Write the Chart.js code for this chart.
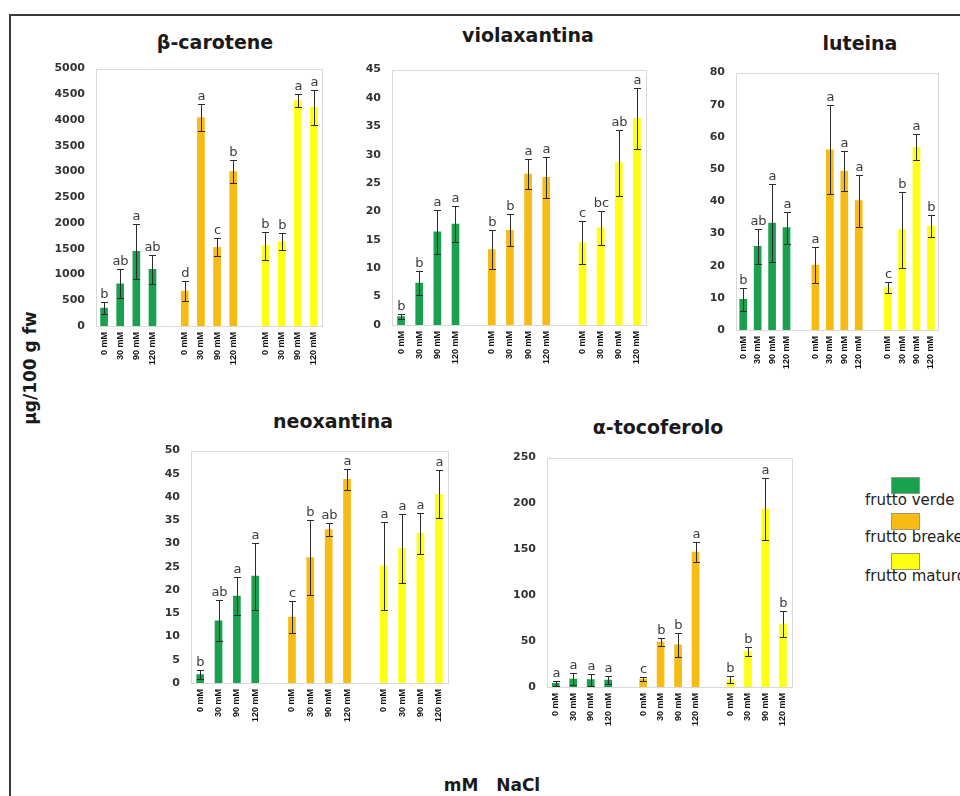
<!DOCTYPE html>
<html>
<head>
<meta charset="utf-8">
<script src="https://cdn.jsdelivr.net/npm/chart.js@4.4.1/dist/chart.umd.min.js"></script>
<style>
  html, body { margin: 0; padding: 0; background: #fff; }
  body { position: relative; width: 960px; height: 796px; overflow: hidden; font-family: "DejaVu Sans", sans-serif; }
  .frame { position: absolute; left: 9px; top: 14px; width: 1000px; height: 900px; border-top: 2px solid #3a3a3a; border-left: 2px solid #3a3a3a; }
  canvas { position: absolute; }
  .title { position: absolute; font: bold 19px "DejaVu Sans", sans-serif; color: #1a1a1a; transform: translate(-50%, -50%); white-space: nowrap; }
  .axis-title { position: absolute; font: bold 17px "DejaVu Sans", sans-serif; color: #1a1a1a; white-space: pre; }
  .swatch { position: absolute; left: 891px; width: 27px; height: 15px; border: 1px solid #9a9a7a; }
  .legend-text { position: absolute; left: 865px; font: 15px "DejaVu Sans", sans-serif; color: #222; white-space: nowrap; transform: translateY(-50%); }
</style>
</head>
<body>
<div class="frame"></div>

<div class="title" style="left:215px; top:42px;">β-carotene</div>
<div class="title" style="left:528px; top:35px;">violaxantina</div>
<div class="title" style="left:860px; top:43px;">luteina</div>
<div class="title" style="left:333px; top:421px;">neoxantina</div>
<div class="title" style="left:658px; top:427px;">α-tocoferolo</div>

<div class="axis-title" style="left:30px; top:368px; transform: translate(-50%, -50%) rotate(-90deg);">µg/100 g fw</div>
<div class="axis-title" style="left:492px; top:785px; transform: translate(-50%, -50%);">mM   NaCl</div>

<canvas id="c1"></canvas>
<canvas id="c2"></canvas>
<canvas id="c3"></canvas>
<canvas id="c4"></canvas>
<canvas id="c5"></canvas>

<div class="swatch" style="top:477px; background:#19a14f;"></div>
<div class="legend-text" style="top:500px;">frutto verde</div>
<div class="swatch" style="top:513px; background:#f7bb14;"></div>
<div class="legend-text" style="top:537px;">frutto breaker</div>
<div class="swatch" style="top:553px; background:#ffff14;"></div>
<div class="legend-text" style="top:576px;">frutto maturo</div>

<script>
  // 4 NaCl doses per fruit stage, an empty slot between stages
  const categories = [
    "0 mM", "30 mM", "90 mM", "120 mM", "",
    "0 mM", "30 mM", "90 mM", "120 mM", "",
    "0 mM", "30 mM", "90 mM", "120 mM",
  ];

  const green = "#19a14f";
  const orange = "#f7bb14";
  const yellow = "#ffff14";
  const barColors = [
    green, green, green, green, null,
    orange, orange, orange, orange, null,
    yellow, yellow, yellow, yellow,
  ];

  const caroteneMean = [350, 820, 1450, 1100, null, 680, 4050, 1530, 3000, null, 1560, 1640, 4380, 4250];
  const caroteneErr = [110, 280, 530, 280, null, 190, 260, 170, 230, null, 270, 170, 130, 340];
  const caroteneSig = ["b", "ab", "a", "ab", "", "d", "a", "c", "b", "", "b", "b", "a", "a"];

  const violaMean = [1.5, 7.4, 16.4, 17.8, null, 13.3, 16.7, 26.6, 26.0, null, 14.5, 17.1, 28.6, 36.4];
  const violaErr = [0.5, 2.2, 3.9, 3.1, null, 3.4, 2.8, 2.7, 3.6, null, 3.8, 3.0, 5.8, 5.4];
  const violaSig = ["b", "b", "a", "a", "", "b", "b", "a", "a", "", "c", "bc", "ab", "a"];

  const luteinaMean = [9.5, 26, 33.2, 31.8, null, 20.2, 56, 49.4, 40.2, null, 13.2, 31.2, 56.8, 32.3];
  const luteinaErr = [3.5, 5.5, 12.2, 5, null, 5.6, 13.8, 6.3, 8.1, null, 1.6, 11.8, 4.1, 3.4];
  const luteinaSig = ["b", "ab", "a", "a", "", "a", "a", "a", "a", "", "c", "b", "a", "b"];

  const neoMean = [1.8, 13.4, 18.7, 23.0, null, 14.2, 27.0, 33.0, 43.8, null, 25.2, 29.0, 32.2, 40.6];
  const neoErr = [0.9, 4.4, 4.0, 7.2, null, 3.5, 8.0, 1.4, 2.2, null, 9.5, 7.4, 4.4, 5.2];
  const neoSig = ["b", "ab", "a", "a", "", "c", "b", "ab", "a", "", "a", "a", "a", "a"];

  const tocoMean = [4, 8.5, 8, 7.5, null, 8.5, 49, 46, 147, null, 8, 39, 194, 68.5];
  const tocoErr = [2.5, 6.5, 6.5, 4.5, null, 2.5, 4.5, 13, 10.5, null, 3.5, 5, 34, 14.5];
  const tocoSig = ["a", "a", "a", "a", "", "c", "b", "b", "a", "", "b", "b", "a", "b"];

  const yMax = [5000, 45, 80, 50, 250];
  const yStep = [500, 5, 10, 5, 50];

  // plot area boxes on the page: [left, top, right, bottom]
  const panels = [
    { id: "c1", mean: caroteneMean, err: caroteneErr, sig: caroteneSig, box: [96, 61, 323, 326] },
    { id: "c2", mean: violaMean, err: violaErr, sig: violaSig, box: [392, 62, 646, 325] },
    { id: "c3", mean: luteinaMean, err: luteinaErr, sig: luteinaSig, box: [736, 65, 940, 330] },
    { id: "c4", mean: neoMean, err: neoErr, sig: neoSig, box: [191, 443, 448, 683] },
    { id: "c5", mean: tocoMean, err: tocoErr, sig: tocoSig, box: [547, 450, 792, 687] },
  ];

  const Y_AXIS_W = 56;
  const X_AXIS_H = 45;
  const PAD_TOP = 10;
  const PAD_RIGHT = 8;

  const plotFrame = {
    id: "plotFrame",
    beforeDatasetsDraw(chart) {
      const { ctx, chartArea: a } = chart;
      ctx.save();
      ctx.strokeStyle = "#d9d9d9";
      ctx.lineWidth = 1;
      ctx.strokeRect(Math.round(a.left) + 0.5, Math.round(a.top) + 0.5, Math.round(a.width), Math.round(a.height));
      ctx.restore();
    },
  };

  function makeErrorBars(panel) {
    return {
      id: "errorBars",
      afterDatasetsDraw(chart) {
        const { ctx } = chart;
        const y = chart.scales.y;
        const meta = chart.getDatasetMeta(0);
        ctx.save();
        meta.data.forEach((bar, i) => {
          const v = panel.mean[i];
          if (v == null) {
            return;
          }
          const e = panel.err[i];
          const x = Math.round(bar.x) + 0.5;
          const top = Math.round(y.getPixelForValue(v + e)) + 0.5;
          const bot = Math.round(y.getPixelForValue(Math.max(v - e, 0))) + 0.5;
          ctx.strokeStyle = "#2b2b2b";
          ctx.lineWidth = 1;
          ctx.beginPath();
          ctx.moveTo(x, top);
          ctx.lineTo(x, bot);
          ctx.moveTo(x - 3.5, top);
          ctx.lineTo(x + 3.5, top);
          ctx.moveTo(x - 3.5, bot);
          ctx.lineTo(x + 3.5, bot);
          ctx.stroke();
          ctx.fillStyle = "#3c3c3c";
          ctx.font = "13px 'DejaVu Sans'";
          ctx.textAlign = "center";
          ctx.textBaseline = "bottom";
          ctx.fillText(panel.sig[i], x, top - 1);
        });
        ctx.restore();
      },
    };
  }

  function renderPanel(panel, index) {
    const canvas = document.getElementById(panel.id);
    const [left, top, right, bottom] = panel.box;
    canvas.style.left = `${left - Y_AXIS_W}px`;
    canvas.style.top = `${top - PAD_TOP}px`;
    canvas.width = right - left + Y_AXIS_W + PAD_RIGHT;
    canvas.height = bottom - top + PAD_TOP + X_AXIS_H;

    new Chart(canvas, {
      type: "bar",
      data: {
        labels: categories,
        datasets: [
          {
            data: panel.mean,
            backgroundColor: barColors,
            borderWidth: 0,
            barThickness: 7,
          },
        ],
      },
      options: {
        responsive: false,
        animation: false,
        layout: {
          padding: { top: PAD_TOP, right: PAD_RIGHT, left: 0, bottom: 0 },
        },
        plugins: {
          legend: { display: false },
          tooltip: { enabled: false },
        },
        scales: {
          x: {
            grid: { display: false, drawTicks: false },
            border: { display: false },
            ticks: {
              autoSkip: false,
              minRotation: 90,
              maxRotation: 90,
              padding: 6,
              color: "#111",
              font: { family: "Liberation Sans", weight: "bold", size: 9 },
            },
            afterFit: (scale) => {
              scale.height = X_AXIS_H;
            },
          },
          y: {
            min: 0,
            max: yMax[index],
            ticks: {
              stepSize: yStep[index],
              padding: 11,
              color: "#333",
              font: { family: "DejaVu Sans", weight: "bold", size: 11 },
              callback: (value) => String(value),
            },
            grid: { display: false, drawTicks: false },
            border: { display: false },
            afterFit: (scale) => {
              scale.width = Y_AXIS_W;
            },
          },
        },
      },
      plugins: [plotFrame, makeErrorBars(panel)],
    });
  }

  panels.forEach(renderPanel);
</script>
</body>
</html>
